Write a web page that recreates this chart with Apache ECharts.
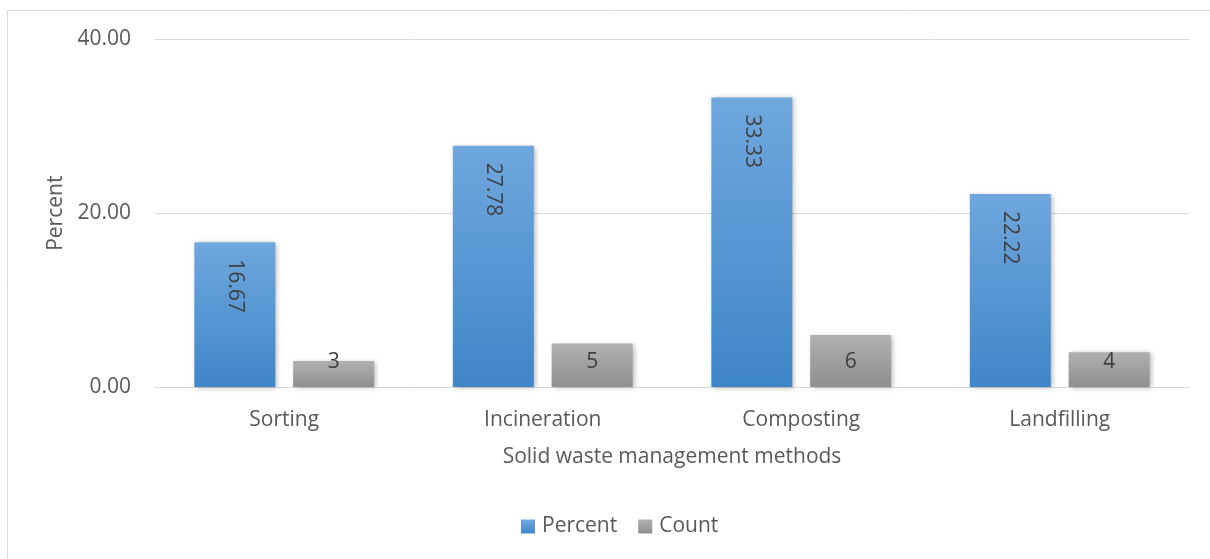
<!DOCTYPE html>
<html>
<head>
<meta charset="utf-8">
<script src="https://cdn.jsdelivr.net/npm/echarts@6/dist/echarts.min.js"></script>
<style>
  html, body { margin: 0; padding: 0; background: #ffffff; }
  #chart { width: 1210px; height: 559px; }
</style>
</head>
<body>
<div id="chart"></div>
<script>
// Solid waste management methods: share of respondents (percent) and raw counts
const categories = ['Sorting', 'Incineration', 'Composting', 'Landfilling'];
const percentValues = [16.67, 27.78, 33.33, 22.22];
const countValues = [3, 5, 6, 4];
const yTicks = [0, 20, 40];

const FONT = '"Open Sans", "Noto Sans", sans-serif';
const TEXT = '#595959';
const FS = 21;

const blueFill = new echarts.graphic.LinearGradient(0, 0, 0, 1, [
  { offset: 0, color: '#6fa7de' },
  { offset: 1, color: '#3f86c8' }
]);
const grayFill = new echarts.graphic.LinearGradient(0, 0, 0, 1, [
  { offset: 0, color: '#b0b0b0' },
  { offset: 1, color: '#8f8f8f' }
]);

const chart = echarts.init(document.getElementById('chart'), null, { renderer: 'canvas' });

chart.setOption({
  animation: false,
  backgroundColor: '#ffffff',
  textStyle: { fontFamily: FONT },
  graphic: [{
    type: 'rect',
    shape: { x: 7.5, y: 10.5, width: 1400, height: 700 },
    style: { fill: 'none', stroke: '#d9d9d9', lineWidth: 1 },
    silent: true,
    z: -1
  }],
  grid: { left: 155, right: 21, top: 39.5, bottom: 172, containLabel: false },
  legend: {
    bottom: 17,
    left: 516,
    itemWidth: 14,
    itemHeight: 14,
    itemGap: 21,
    icon: 'rect',
    textStyle: { fontFamily: FONT, fontSize: FS, color: TEXT, padding: [0, 0, 0, 2] },
    data: ['Percent', 'Count']
  },
  xAxis: {
    type: 'category',
    data: categories,
    name: 'Solid waste management methods',
    nameLocation: 'middle',
    nameGap: 60,
    nameTextStyle: { fontFamily: FONT, fontSize: FS, color: TEXT },
    axisLine: { show: true, lineStyle: { color: '#d9d9d9', width: 1 } },
    axisTick: { show: false },
    axisLabel: { fontFamily: FONT, fontSize: FS, color: TEXT, margin: 23 }
  },
  yAxis: {
    type: 'value',
    min: yTicks[0],
    max: yTicks[yTicks.length - 1],
    interval: yTicks[1] - yTicks[0],
    name: 'Percent',
    nameLocation: 'middle',
    nameGap: 86,
    nameRotate: 90,
    nameTextStyle: { fontFamily: FONT, fontSize: FS, color: TEXT },
    axisLine: { show: false },
    axisTick: { show: false },
    splitLine: { lineStyle: { color: '#d9d9d9', width: 1 } },
    axisLabel: {
      fontFamily: FONT, fontSize: FS, color: TEXT, margin: 24,
      formatter: v => v.toFixed(2)
    }
  },
  series: [
    {
      name: 'Percent',
      type: 'bar',
      data: percentValues,
      barWidth: 81,
      barGap: '22%',
      itemStyle: {
        color: blueFill,
        shadowBlur: 5,
        shadowColor: 'rgba(0,0,0,0.28)',
        shadowOffsetX: 2,
        shadowOffsetY: 1
      },
      label: {
        show: true,
        position: 'insideTop',
        distance: 17,
        rotate: -90,
        align: 'left',
        verticalAlign: 'middle',
        fontFamily: FONT,
        fontSize: FS,
        color: '#404040',
        formatter: p => p.value.toFixed(2)
      }
    },
    {
      name: 'Count',
      type: 'bar',
      data: countValues,
      barWidth: 81,
      itemStyle: {
        color: grayFill,
        shadowBlur: 5,
        shadowColor: 'rgba(0,0,0,0.28)',
        shadowOffsetX: 2,
        shadowOffsetY: 1
      },
      label: {
        show: true,
        position: 'insideBottom',
        distance: 14,
        fontFamily: FONT,
        fontSize: FS,
        color: '#404040'
      }
    }
  ]
});
</script>
</body>
</html>
